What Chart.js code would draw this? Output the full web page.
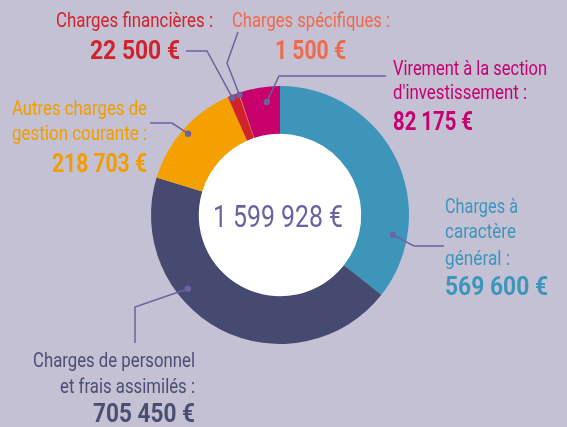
<!DOCTYPE html>
<html>
<head>
<meta charset="utf-8">
<script src="https://cdn.jsdelivr.net/npm/chart.js@4"></script>
<style>
  html, body { margin: 0; padding: 0; background: #c3c1d3; }
  canvas { display: block; }
</style>
</head>
<body>
<canvas id="myChart" width="567" height="427"></canvas>
<script>
// données (sens horaire depuis le haut)
const categories = [
    'Charges à caractère général',
    'Charges de personnel et frais assimilés',
    'Autres charges de gestion courante',
    'Charges financières',
    'Charges spécifiques',
    "Virement à la section d'investissement"
];
const montants = [569600, 705450, 218703, 22500, 1500, 82175];
const couleurs = ['#3e95ba', '#464a70', '#f4a100', '#d2232a', '#ef6343', '#c8006c'];
const couleursTexte = ['#3d95bb', '#4a4e72', '#f09d00', '#d0232b', '#ef6a4a', '#c6006e'];
const libelles = [
    ['Charges à', 'caractère', 'général :'],
    ['Charges de personnel', 'et frais assimilés :'],
    ['Autres charges de', 'gestion courante :'],
    ['Charges financières :'],
    ['Charges spécifiques :'],
    ['Virement à la section', "d'investissement :"]
];
const totalLabel = '1 599 928 €';

function formatEuro(v) {
    return v.toString().replace(/\B(?=(\d{3})+(?!\d))/g, ' ') + ' €';
}

// placement des étiquettes et des traits de rappel
// t = position le long de l'arc, f = position dans l'épaisseur de l'anneau
const placements = [
    { t: 0.78, f: 0.70, path: [[414, 246], [444, 246]], align: 'left',
      lines: [[445, 213, 73], [445, 238, 71], [445, 265, 65]], value: [445, 295, 103] },
    { t: 0.65, f: 0.77, path: [[135, 307], [135, 343]], align: 'right',
      lines: [[195, 367, 162], [195, 393, 135]], value: [195, 422, 102] },
    { t: 0.50, f: 0.87, path: [[172, 123], [150, 123]], align: 'right',
      lines: [[147, 115, 135], [147, 140, 135]], value: [147, 172, 95] },
    { t: 0.35, f: 0.95, path: [[207, 51], [186, 51]], align: 'right',
      lines: [[213, 27, 157]], value: [180, 59, 90] },
    { t: 0.50, f: 0.95, path: [[227, 63], [238, 32]], align: 'left',
      lines: [[232, 27, 158]], value: [275, 59, 71] },
    { t: 0.64, f: 0.68, path: [[279, 76], [386, 76]], align: 'left',
      lines: [[393, 75, 154], [393, 99, 134]], value: [393, 130, 80] }
];

const leaderColor = '#6c62a0';

const etiquettesPlugin = {
    id: 'etiquettes',
    beforeDatasetsDraw(chart) {
        const arc = chart.getDatasetMeta(0).data[0];
        if (!arc) return;
        const { x, y, innerRadius } = arc.getProps(['x', 'y', 'innerRadius'], true);
        const ctx = chart.ctx;
        ctx.save();
        ctx.fillStyle = '#ffffff';
        ctx.beginPath();
        ctx.arc(x, y, innerRadius + 0.5, 0, Math.PI * 2);
        ctx.fill();
        ctx.restore();
    },
    afterDatasetsDraw(chart) {
        const ctx = chart.ctx;
        const arcs = chart.getDatasetMeta(0).data;
        ctx.save();
        arcs.forEach((arc, i) => {
            const p = arc.getProps(['x', 'y', 'startAngle', 'endAngle', 'innerRadius', 'outerRadius'], true);
            const pl = placements[i];
            const a = p.startAngle + pl.t * (p.endAngle - p.startAngle);
            const r = p.innerRadius + pl.f * (p.outerRadius - p.innerRadius);
            const dx = p.x + Math.cos(a) * r;
            const dy = p.y + Math.sin(a) * r;

            // trait de rappel
            ctx.strokeStyle = leaderColor;
            ctx.lineWidth = 1.5;
            ctx.beginPath();
            ctx.moveTo(dx, dy);
            pl.path.forEach(pt => ctx.lineTo(pt[0], pt[1]));
            ctx.stroke();
            ctx.fillStyle = leaderColor;
            ctx.beginPath();
            ctx.arc(dx, dy, 3.2, 0, Math.PI * 2);
            ctx.fill();

            // textes
            ctx.fillStyle = couleursTexte[i];
            ctx.textAlign = pl.align;
            ctx.textBaseline = 'alphabetic';
            ctx.font = '21px Roboto, "Noto Sans", sans-serif';
            libelles[i].forEach((txt, k) => {
                const l = pl.lines[k];
                ctx.fillText(txt, l[0], l[1], l[2]);
            });
            ctx.font = 'bold 25px Roboto, "Noto Sans", sans-serif';
            ctx.fillText(formatEuro(montants[i]), pl.value[0], pl.value[1], pl.value[2]);
        });

        // total au centre
        const c = arcs[0].getProps(['x', 'y'], true);
        ctx.fillStyle = leaderColor;
        ctx.textAlign = 'center';
        ctx.font = '32px Roboto, "Noto Sans", sans-serif';
        ctx.fillText(totalLabel, c.x - 2, 227, 130);
        ctx.restore();
    }
};

const canvas = document.getElementById('myChart');
const myChart = new Chart(canvas.getContext('2d'), {
    type: 'doughnut',
    data: {
        labels: categories,
        datasets: [{
            data: montants,
            backgroundColor: couleurs,
            borderWidth: 0
        }]
    },
    options: {
        responsive: false,
        devicePixelRatio: 1,
        animation: false,
        events: [],
        cutout: '63%',
        layout: { padding: { left: 151, right: 158, top: 86, bottom: 83 } },
        plugins: {
            legend: { display: false },
            tooltip: { enabled: false }
        }
    },
    plugins: [etiquettesPlugin]
});
</script>
</body>
</html>
